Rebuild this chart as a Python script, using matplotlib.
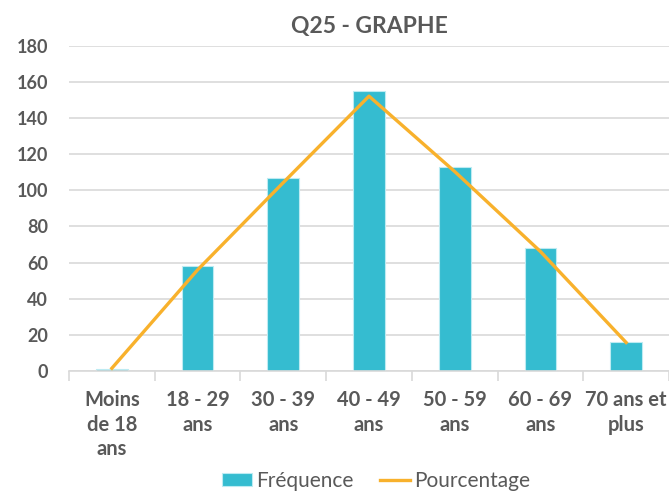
import matplotlib
matplotlib.use("Agg")
import matplotlib.pyplot as plt
import numpy as np

categories = ["Moins\nde 18\nans", "18 - 29\nans", "30 - 39\nans", "40 - 49\nans",
              "50 - 59\nans", "60 - 69\nans", "70 ans et\nplus"]
frequence = [1, 58, 107, 155, 113, 68, 16]
pourcentage = [0.3, 11.0, 20.5, 29.9, 21.7, 13.0, 3.1]
yticks = [0, 20, 40, 60, 80, 100, 120, 140, 160, 180]

TXT = "#595959"
BAR = "#35BCD0"
LINE = "#F8B12C"
plt.rcParams['font.family'] = ['Lato', 'DejaVu Sans']

fig = plt.figure(figsize=(6.69, 4.92), dpi=100)
ax = fig.add_axes([69/669, (492-371)/492, 600/669, 325.4/492])
x = np.arange(len(categories))
bars = ax.bar(x, frequence, width=0.37, color=BAR, edgecolor="#BDEBF2", linewidth=0.8,
              label="Fréquence", zorder=2)
ax.set_xlim(-0.5, len(categories) - 0.5)
ax.set_ylim(0, 180)
ax.set_yticks(yticks)
ax.set_yticklabels([str(v) for v in yticks], fontsize=13, fontweight='bold', color=TXT)
ax.grid(axis='y', color='#D9D9D9', linewidth=1.2, zorder=0)
ax.set_axisbelow(True)
for s in ['top', 'right', 'left']:
    ax.spines[s].set_visible(False)
ax.spines['bottom'].set_color('#D9D9D9')
ax.spines['bottom'].set_linewidth(1.2)
ax.tick_params(axis='y', length=0, pad=15)
ax.set_xticks(x)
ax.set_xticklabels(categories, fontsize=14.5, fontweight='bold', color=TXT, linespacing=1.27)
ax.tick_params(axis='x', length=0, pad=14)
ax.set_xticks(np.arange(-0.5, len(categories)), minor=True)
ax.tick_params(axis='x', which='minor', length=7, color='#D9D9D9', width=1.2)

ax2 = ax.twinx()
ax2.set_ylim(0, 35.4)
ax2.plot(x, pourcentage, color=LINE, linewidth=2.4, label="Pourcentage", zorder=3,
         solid_joinstyle='round')
ax2.axis('off')

fig.text(369/669, 1 - 27/492, "Q25 - GRAPHE", fontsize=16.5, fontweight='bold', color=TXT,
         ha='center', va='center')

handles = [bars, ax2.get_lines()[0]]
fig.legend(handles, ["Fréquence", "Pourcentage"], loc='center', bbox_to_anchor=(376/669, 1 - 481/492),
           ncol=2, frameon=False, fontsize=15, handlelength=1.45, handleheight=0.6,
           columnspacing=1.25, handletextpad=0.2, labelcolor=TXT, borderpad=0.2)

fig.savefig("out.png", dpi=100)
